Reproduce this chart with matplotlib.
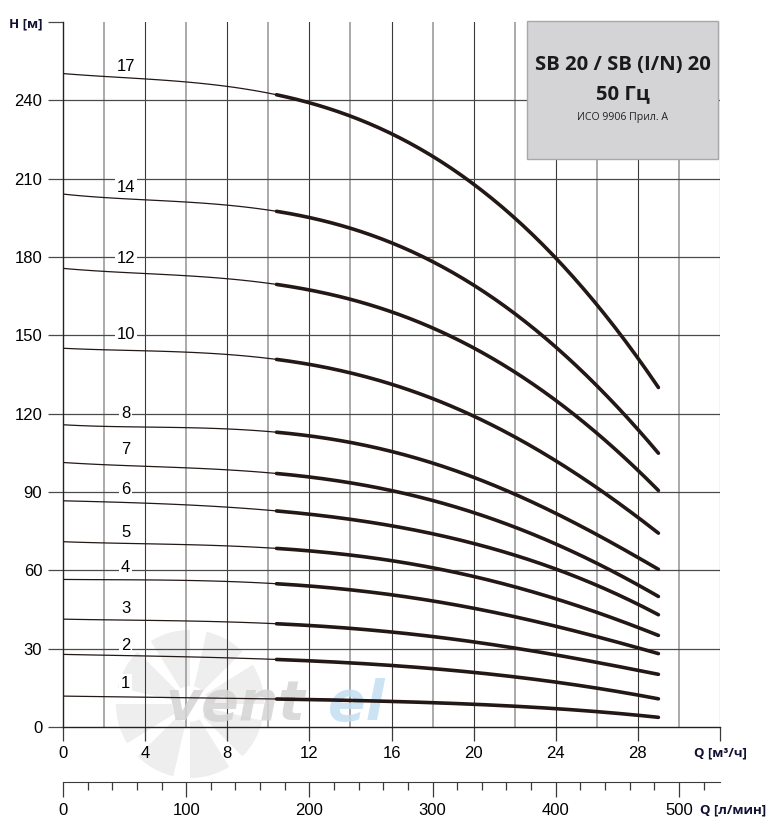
import matplotlib.pyplot as plt
import numpy as np
from matplotlib.patches import Wedge, Rectangle

# flow points (m3/h) where heads were read
q = [0, 2, 4, 6, 8, 10.4, 12, 14, 16, 18, 20, 22, 24, 26, 28, 29]

# head (m) for each number of stages
heads = {
    17: [250.3, 249.2, 248.0, 246.9, 245.4, 242.5, 239.4, 233.9, 226.5, 218.0, 208.4, 195.5, 180.0, 161.0, 141.0, 130.4],
    14: [204.1, 202.9, 201.7, 200.9, 200.0, 197.5, 195.6, 191.1, 184.7, 177.7, 170.0, 158.5, 145.8, 130.2, 113.8, 105.1],
    12: [175.5, 174.7, 173.7, 172.8, 171.7, 169.4, 167.4, 163.6, 159.0, 152.7, 145.7, 136.0, 125.2, 112.0, 98.3, 90.8],
    10: [145.1, 144.6, 143.9, 143.3, 142.5, 140.9, 139.6, 136.1, 130.6, 125.2, 118.9, 111.5, 102.2, 91.7, 80.2, 74.2],
    8: [115.7, 115.3, 114.9, 114.5, 113.9, 112.9, 111.8, 109.3, 105.4, 100.9, 95.2, 89.5, 81.9, 73.7, 65.0, 60.3],
    7: [101.2, 100.6, 99.9, 99.3, 98.4, 96.8, 95.9, 93.6, 90.5, 86.9, 81.8, 77.0, 70.0, 62.5, 54.4, 50.1],
    6: [86.7, 86.2, 85.6, 85.0, 84.2, 82.8, 81.8, 79.9, 76.7, 73.5, 69.7, 67.0, 60.6, 53.9, 46.8, 43.2],
    5: [70.9, 70.6, 70.2, 69.8, 69.3, 68.4, 67.5, 65.8, 63.9, 60.7, 57.5, 54.2, 49.1, 43.6, 38.1, 35.2],
    4: [56.6, 56.4, 56.2, 56.0, 55.7, 55.2, 54.3, 52.4, 50.5, 47.9, 45.4, 42.6, 38.7, 34.5, 30.3, 28.1],
    3: [41.3, 41.1, 40.8, 40.6, 40.2, 39.6, 39.0, 37.7, 36.4, 34.5, 32.6, 30.4, 27.6, 24.7, 21.7, 20.2],
    2: [27.8, 27.5, 27.2, 26.9, 26.5, 25.8, 25.6, 24.3, 23.4, 22.4, 21.1, 19.4, 17.1, 14.7, 12.2, 10.9],
    1: [11.8, 11.6, 11.5, 11.3, 11.0, 10.6, 10.4, 10.2, 9.8, 9.3, 8.9, 8.1, 6.9, 5.7, 4.5, 3.8],
}

# stage labels and where they sit (H)
label_h = {17: 253, 14: 206.7, 12: 179.6, 10: 150.2, 8: 120.2, 7: 106.1,
           6: 90.8, 5: 74.4, 4: 61, 3: 45.2, 2: 31.3, 1: 16.6}

x_ticks = [0, 4, 8, 12, 16, 20, 24, 28, 32]
x_labels = ['0', '4', '8', '12', '16', '20', '24', '28', 'Q [м³/ч]']
y_ticks = [0, 30, 60, 90, 120, 150, 180, 210, 240, 270]
y_labels = ['0', '30', '60', '90', '120', '150', '180', '210', '240', 'H [м]']
lmin_ticks = [0, 100, 200, 300, 400, 500]

title1 = 'SB 20 / SB (I/N) 20'
title2 = '50 Гц'
title3 = 'ИСО 9906 Прил. А'

plt.rcParams['font.family'] = ['Liberation Sans', 'DejaVu Sans']
W, H = 779, 827
fig = plt.figure(figsize=(W / 100, H / 100), dpi=100)

L, R, B, T = 63, 720, 727, 22
ax = fig.add_axes([L / W, 1 - B / H, (R - L) / W, (B - T) / H])
ax.set_xlim(0, 32)
ax.set_ylim(0, 270)

# grid
for g in np.arange(2, 33, 2):
    if g % 4 == 0:
        ax.axvline(g, color='#3a3a3a', lw=0.8, zorder=1)
    else:
        ax.axvline(g, color='#9c9c9c', lw=1.2, zorder=1)
for g in y_ticks[1:-1]:
    ax.axhline(g, color='#4a4a4a', lw=0.9, zorder=1)

for s in ['top', 'right']:
    ax.spines[s].set_visible(False)
for s in ['left', 'bottom']:
    ax.spines[s].set_color('#222222')
    ax.spines[s].set_linewidth(1.0)

ax.set_xticks(x_ticks)
ax.set_xticklabels(x_labels)
ax.set_yticks(y_ticks)
ax.set_yticklabels(y_labels)
ax.tick_params(axis='x', length=10, width=0.9, color='#3a3a3a', labelsize=12, pad=4)
ax.tick_params(axis='y', length=11, width=0.9, color='#4a4a4a', labelsize=12, pad=4)
for lab in [ax.get_xticklabels()[-1], ax.get_yticklabels()[-1]]:
    lab.set_fontfamily('Open Sans')
    lab.set_fontweight('bold')
    lab.set_fontsize(9.5)
    lab.set_color('#111133')

# watermark
fan = fig.add_axes([112 / W, 1 - 782 / H, 156 / W, 156 / H])
fan.set_xlim(-1, 1)
fan.set_ylim(-1, 1)
fan.set_aspect('equal')
fan.axis('off')
for a in range(0, 360, 45):
    fan.add_patch(Wedge((0, 0), 0.95, a, a + 32, width=0.72, color='#ebebeb', alpha=0.85, lw=0))
fan.set_zorder(0.5)
ax.set_zorder(1)
ax.patch.set_alpha(0)
ax.text(5.0, 8.3, 'vent', fontsize=40, style='italic', fontweight='bold',
        color='#d4d4d4', alpha=0.85, zorder=2, va='center', family='DejaVu Sans')
ax.text(12.9, 8.3, 'el', fontsize=40, style='italic', fontweight='bold',
        color='#c4def2', alpha=0.85, zorder=2, va='center', family='DejaVu Sans')

# curves (smooth line through the read points)
col = '#231815'
q_arr = np.array(q)
for n, h in heads.items():
    c = np.polyfit(q_arr, np.array(h), 4)
    q_thin = np.linspace(0, 10.4, 60)
    q_thick = np.linspace(10.4, 29, 150)
    ax.plot(q_thin, np.polyval(c, q_thin), color=col, lw=0.9, zorder=4)
    ax.plot(q_thick, np.polyval(c, q_thick), color=col, lw=2.6, zorder=4, solid_capstyle='round')
    ax.text(3.05, label_h[n], str(n), fontsize=12, ha='center', va='center', zorder=3,
            bbox=dict(facecolor='white', edgecolor='none', pad=1.2))

# title box
ax.add_patch(Rectangle((22.6, 217.4), 9.3, 53, facecolor='#d4d4d6', edgecolor='#a8a8a8',
                       lw=1, zorder=5, clip_on=False))
ax.text(27.25, 253.7, title1, fontsize=14.6, fontweight='bold', family='Open Sans',
        ha='center', va='center', zorder=6, color='#1a1a1a')
ax.text(27.25, 242.2, title2, fontsize=14.6, fontweight='bold', family='Open Sans',
        ha='center', va='center', zorder=6, color='#1a1a1a')
ax.text(27.25, 233.4, title3, fontsize=7.6, family='Open Sans',
        ha='center', va='center', zorder=6, color='#222222')

# second axis in l/min
ax2 = fig.add_axes([L / W, 1 - 782 / H, (R - L) / W, 0.0001])
ax2.set_xlim(0, 32 * 1000 / 60)
ax2.set_yticks([])
for s in ['top', 'left', 'right']:
    ax2.spines[s].set_visible(False)
ax2.spines['bottom'].set_color('#3a3a3a')
ax2.set_xticks(lmin_ticks)
ax2.set_xticks(np.arange(0, 521, 20), minor=True)
ax2.tick_params(axis='x', which='major', length=11, width=0.9, color='#3a3a3a', labelsize=12, pad=4)
ax2.tick_params(axis='x', which='minor', length=6, width=0.9, color='#3a3a3a')
fig.text(700 / W, 1 - 810 / H, 'Q [л/мин]', fontsize=9.5, fontweight='bold', family='Open Sans',
         color='#111133', va='center', ha='left')

fig.savefig('out.png', dpi=100)
